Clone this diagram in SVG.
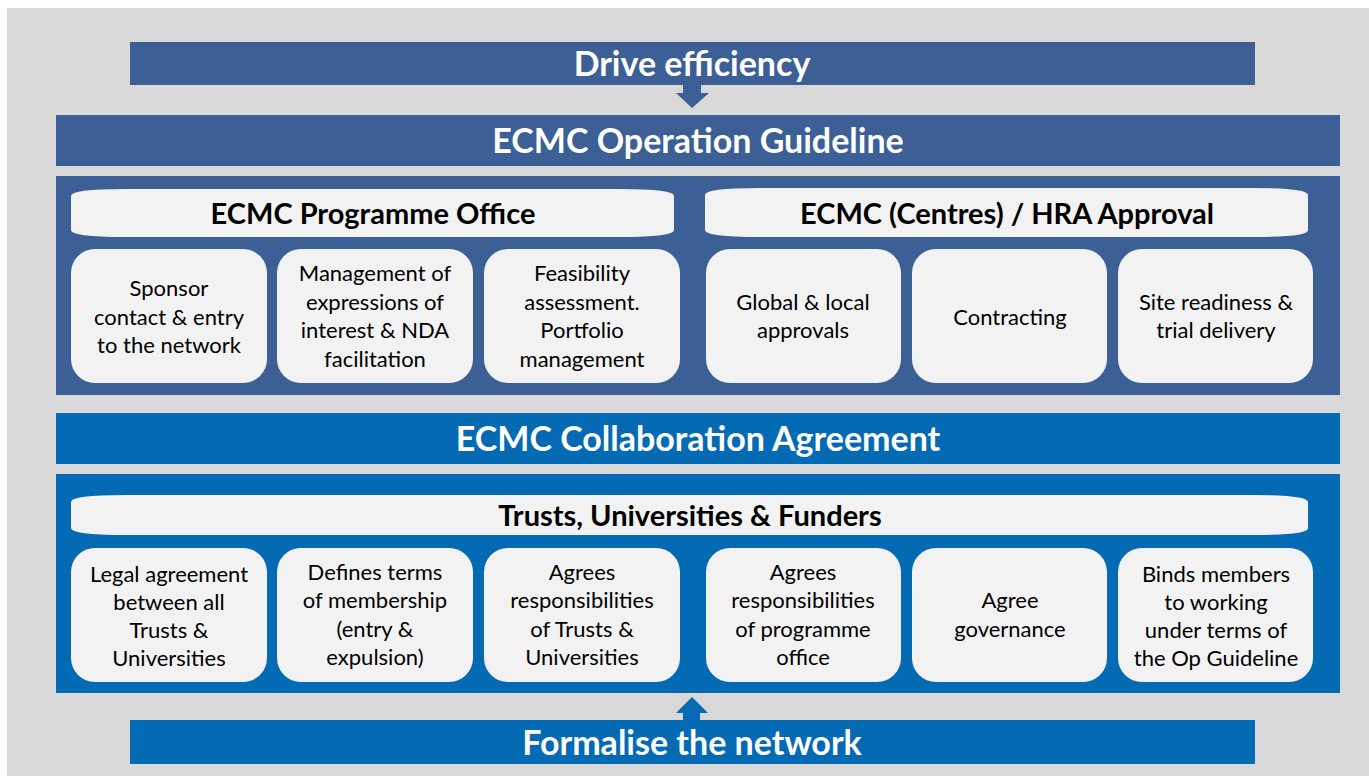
<svg xmlns="http://www.w3.org/2000/svg" width="1369" height="776" viewBox="0 0 1369 776">
<style>
.dk{fill:#3C6096}
.bl{fill:#036AB3}
.box{fill:#F2F2F2}
.big{font-family:Lato,"Liberation Sans",sans-serif;font-weight:bold;font-size:34px;fill:#fff;text-anchor:middle}
.hd{font-family:Lato,"Liberation Sans",sans-serif;font-weight:bold;font-size:29px;fill:#000;text-anchor:middle}
.tx{font-family:Lato,"Liberation Sans",sans-serif;font-size:22px;fill:#000;text-anchor:middle}
</style>
<rect x="0" y="0" width="1369" height="776" fill="#fff"/>
<rect x="7" y="8" width="1362" height="768" fill="#D9D9D9"/>

<g id="drive-efficiency">
<rect class="dk" x="130" y="42" width="1125" height="43"/>
<text class="big" x="692" y="76">Drive efficiency</text>
</g>
<g id="op-guideline">
<rect class="dk" x="56" y="115" width="1284" height="51"/>
<text class="big" x="698" y="153">ECMC Operation Guideline</text>
</g>
<g id="top-panel">
<rect class="dk" x="56" y="176" width="1284" height="219"/>
</g>
<g id="programme-office">
<path class="box" d="M71,196 Q71,189 125,189 L620,189 Q674,189 674,196 L674,230 Q674,237 620,237 L125,237 Q71,237 71,230 Z"/>
<text class="hd" x="373" y="224">ECMC Programme Office</text>
</g>
<g id="hra-approval">
<path class="box" d="M705,195 Q705,188 759,188 L1254,188 Q1308,188 1308,195 L1308,230 Q1308,237 1254,237 L759,237 Q705,237 705,230 Z"/>
<text class="hd" x="1007" y="224">ECMC (Centres) / HRA Approval</text>
</g>
<g id="sponsor-contact">
<rect class="box" x="71" y="249" width="196" height="134" rx="24"/>
<text class="tx" x="169" y="296">Sponsor</text>
<text class="tx" x="169" y="325">contact &amp; entry</text>
<text class="tx" x="169" y="353">to the network</text>
</g>
<g id="management-eoi">
<rect class="box" x="277" y="249" width="196" height="134" rx="24"/>
<text class="tx" x="375" y="281">Management of</text>
<text class="tx" x="375" y="310">expressions of</text>
<text class="tx" x="375" y="338">interest &amp; NDA</text>
<text class="tx" x="375" y="367">facilitation</text>
</g>
<g id="feasibility">
<rect class="box" x="484" y="249" width="196" height="134" rx="24"/>
<text class="tx" x="582" y="281">Feasibility</text>
<text class="tx" x="582" y="310">assessment.</text>
<text class="tx" x="582" y="338">Portfolio</text>
<text class="tx" x="582" y="367">management</text>
</g>
<g id="global-local">
<rect class="box" x="706" y="249" width="195" height="134" rx="24"/>
<text class="tx" x="803" y="310">Global &amp; local</text>
<text class="tx" x="803" y="338">approvals</text>
</g>
<g id="contracting">
<rect class="box" x="912" y="249" width="195" height="134" rx="24"/>
<text class="tx" x="1010" y="325">Contracting</text>
</g>
<g id="site-readiness">
<rect class="box" x="1118" y="249" width="195" height="134" rx="24"/>
<text class="tx" x="1216" y="310">Site readiness &amp;</text>
<text class="tx" x="1216" y="338">trial delivery</text>
</g>

<g id="collab-agreement">
<rect class="bl" x="56" y="413" width="1284" height="51"/>
<text class="big" x="698" y="451">ECMC Collaboration Agreement</text>
</g>
<g id="bottom-panel">
<rect class="bl" x="56" y="474" width="1284" height="219"/>
</g>
<g id="trusts-universities">
<path class="box" d="M71,502 Q71,495 125,495 L1254,495 Q1308,495 1308,502 L1308,528 Q1308,535 1254,535 L125,535 Q71,535 71,528 Z"/>
<text class="hd" x="690" y="526">Trusts, Universities &amp; Funders</text>
</g>
<g id="legal-agreement">
<rect class="box" x="71" y="548" width="196" height="134" rx="24"/>
<text class="tx" x="169" y="582">Legal agreement</text>
<text class="tx" x="169" y="610">between all</text>
<text class="tx" x="169" y="638">Trusts &amp;</text>
<text class="tx" x="169" y="666">Universities</text>
</g>
<g id="defines-terms">
<rect class="box" x="277" y="548" width="196" height="134" rx="24"/>
<text class="tx" x="375" y="580">Defines terms</text>
<text class="tx" x="375" y="608">of membership</text>
<text class="tx" x="375" y="637">(entry &amp;</text>
<text class="tx" x="375" y="665">expulsion)</text>
</g>
<g id="agrees-trusts">
<rect class="box" x="484" y="548" width="196" height="134" rx="24"/>
<text class="tx" x="582" y="580">Agrees</text>
<text class="tx" x="582" y="608">responsibilities</text>
<text class="tx" x="582" y="637">of Trusts &amp;</text>
<text class="tx" x="582" y="665">Universities</text>
</g>
<g id="agrees-office">
<rect class="box" x="706" y="548" width="195" height="134" rx="24"/>
<text class="tx" x="803" y="580">Agrees</text>
<text class="tx" x="803" y="608">responsibilities</text>
<text class="tx" x="803" y="637">of programme</text>
<text class="tx" x="803" y="665">office</text>
</g>
<g id="agree-governance">
<rect class="box" x="912" y="548" width="195" height="134" rx="24"/>
<text class="tx" x="1010" y="608">Agree</text>
<text class="tx" x="1010" y="637">governance</text>
</g>
<g id="binds-members">
<rect class="box" x="1118" y="548" width="195" height="134" rx="24"/>
<text class="tx" x="1216" y="582">Binds members</text>
<text class="tx" x="1216" y="610">to working</text>
<text class="tx" x="1216" y="638">under terms of</text>
<text class="tx" x="1216" y="666">the Op Guideline</text>
</g>
<g id="formalise">
<rect class="bl" x="130" y="720" width="1125" height="44"/>
<text class="big" x="692" y="755">Formalise the network</text>
</g>

<g id="connectors">
<polygon class="dk" points="683,85 701,85 701,93 709,93 692,108 676,93 683,93"/>
<polygon class="bl" points="683,720 700,720 700,713 708,713 692,697 676,713 683,713"/>
</g>
</svg>
